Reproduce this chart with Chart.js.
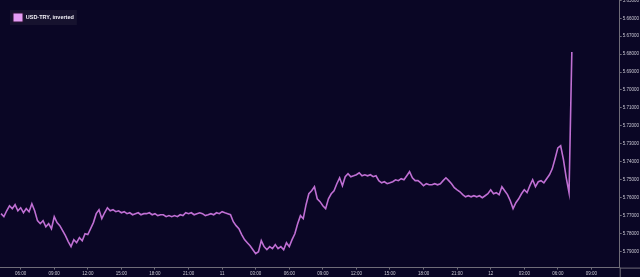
<!DOCTYPE html>
<html>
<head>
<meta charset="utf-8">
<title>USD-TRY, inverted</title>
<script src="https://cdn.jsdelivr.net/npm/chart.js@4/dist/chart.umd.min.js"></script>
<style>
    html, body { margin: 0; padding: 0; background: #0a0625; overflow: hidden; }
    #wrap { position: relative; width: 640px; height: 277px; }
</style>
</head>
<body>
<div id="wrap"><canvas id="fxChart" width="640" height="277"></canvas></div>
<script>
// USD-TRY (inverted), 15 minute samples from 10 Aug 04:15
const seriesName = 'USD-TRY, inverted';
const startHour = 4.25;      // hours since 10 Aug 00:00
const stepHours = 0.25;

const usdTryInverted = [
    5.7690, 5.7707, 5.7674, 5.7646, 5.7662, 5.7640, 5.7674, 5.7657, 5.7685, 5.7662,
    5.7679, 5.7635, 5.7674, 5.7729, 5.7746, 5.7729, 5.7763, 5.7746, 5.7774, 5.7707,
    5.7740, 5.7757, 5.7785, 5.7813, 5.7846, 5.7874, 5.7835, 5.7852, 5.7824, 5.7841,
    5.7802, 5.7807, 5.7774, 5.7740, 5.7690, 5.7668, 5.7718, 5.7685, 5.7657, 5.7674,
    5.7668, 5.7679, 5.7674, 5.7685, 5.7679, 5.7690, 5.7685, 5.7696, 5.7690, 5.7685,
    5.7696, 5.7690, 5.7690, 5.7685, 5.7696, 5.7690, 5.7701, 5.7696, 5.7696, 5.7707,
    5.7701, 5.7707, 5.7701, 5.7707, 5.7696, 5.7701, 5.7685, 5.7690, 5.7685, 5.7696,
    5.7690, 5.7685, 5.7690, 5.7701, 5.7696, 5.7690, 5.7696, 5.7685, 5.7690, 5.7679,
    5.7685, 5.7690, 5.7696, 5.7735, 5.7757, 5.7774, 5.7807, 5.7835, 5.7852, 5.7869,
    5.7891, 5.7913, 5.7902, 5.7841, 5.7874, 5.7891, 5.7874, 5.7885, 5.7863, 5.7885,
    5.7874, 5.7891, 5.7852, 5.7874, 5.7835, 5.7802, 5.7746, 5.7701, 5.7718, 5.7640,
    5.7579, 5.7562, 5.7540, 5.7607, 5.7623, 5.7646, 5.7662, 5.7607, 5.7579, 5.7562,
    5.7523, 5.7490, 5.7534, 5.7484, 5.7467, 5.7484, 5.7479, 5.7473, 5.7462, 5.7479,
    5.7473, 5.7479, 5.7473, 5.7484, 5.7479, 5.7506, 5.7518, 5.7512, 5.7523, 5.7518,
    5.7512, 5.7501, 5.7506, 5.7495, 5.7501, 5.7479, 5.7456, 5.7490, 5.7506, 5.7506,
    5.7518, 5.7534, 5.7523, 5.7529, 5.7529, 5.7523, 5.7529, 5.7523, 5.7506, 5.7490,
    5.7506, 5.7523, 5.7545, 5.7557, 5.7568, 5.7584, 5.7596, 5.7590, 5.7596, 5.7590,
    5.7596, 5.7590, 5.7601, 5.7590, 5.7579, 5.7557, 5.7579, 5.7573, 5.7584, 5.7540,
    5.7562, 5.7584, 5.7618, 5.7662, 5.7629, 5.7607, 5.7579, 5.7557, 5.7573, 5.7534,
    5.7501, 5.7540, 5.7512, 5.7506, 5.7518, 5.7495, 5.7473, 5.7440, 5.7384, 5.7323,
    5.7311, 5.7389, 5.7490, 5.7573, 5.6788
];

const xTickHours = [6, 9, 12, 15, 18, 21, 24, 27, 30, 33, 36, 39, 42, 45, 48, 51, 54, 57];
const xTickLabels = ['06:00', '09:00', '12:00', '15:00', '18:00', '21:00', '11', '03:00', '06:00',
    '09:00', '12:00', '15:00', '18:00', '21:00', '12', '03:00', '06:00', '09:00'];
const yTickValues = [5.65, 5.66, 5.67, 5.68, 5.69, 5.70, 5.71, 5.72, 5.73, 5.74, 5.75, 5.76, 5.77, 5.78, 5.79];

const BG = '#0a0625';
const AXIS = '#6f6c78';
const LABEL = '#c9c7d2';
const LINE = '#bf6fd3';

document.addEventListener('DOMContentLoaded', function () {
    drawChart();
});

function drawChart() {
    const points = usdTryInverted.map((v, i) => ({ x: startHour + i * stepHours, y: v }));

    // legend panel + axis lines running past the plot corner
    const extras = {
        id: 'extras',
        beforeDraw(chart) {
            const ctx = chart.ctx;
            ctx.save();
            ctx.fillStyle = BG;
            ctx.fillRect(0, 0, chart.width, chart.height);
            const hb = chart.legend && chart.legend.legendHitBoxes && chart.legend.legendHitBoxes[0];
            if (hb) {
                ctx.fillStyle = '#16122e';
                ctx.fillRect(hb.left - 3, hb.top - 3, hb.width + 6, hb.height + 6);
            }
            ctx.restore();
        },
        afterDraw(chart) {
            const { ctx, chartArea } = chart;
            ctx.save();
            ctx.strokeStyle = AXIS;
            ctx.lineWidth = 1;
            ctx.beginPath();
            ctx.moveTo(chartArea.right, chartArea.bottom + 0.5);
            ctx.lineTo(chart.width, chartArea.bottom + 0.5);
            ctx.moveTo(chartArea.right + 0.5, chartArea.bottom);
            ctx.lineTo(chartArea.right + 0.5, chart.height);
            ctx.stroke();
            ctx.restore();
        }
    };

    const ctx = document.getElementById('fxChart').getContext('2d');
    new Chart(ctx, {
        type: 'line',
        data: {
            datasets: [{
                label: seriesName,
                data: points,
                borderColor: LINE,
                backgroundColor: '#e59cf5',
                borderWidth: 1.6,
                borderJoinStyle: 'miter',
                pointRadius: 0,
                tension: 0,
                fill: false
            }]
        },
        options: {
            responsive: false,
            animation: false,
            layout: { padding: 0 },
            plugins: {
                tooltip: { enabled: false },
                legend: {
                    position: 'chartArea',
                    align: 'start',
                    labels: {
                        color: '#f2f0f7',
                        font: { family: 'Liberation Sans', size: 5.5, weight: 'bold' },
                        boxWidth: 10,
                        boxHeight: 9,
                        padding: 13,
                        generateLabels: function (chart) {
                            return Chart.defaults.plugins.legend.labels.generateLabels(chart).map(item => {
                                item.fillStyle = '#e59cf5';
                                item.strokeStyle = '#2a1233';
                                item.lineWidth = 1;
                                return item;
                            });
                        }
                    }
                }
            },
            scales: {
                x: {
                    type: 'linear',
                    min: 4.153,
                    max: 59.53,
                    afterBuildTicks: scale => {
                        scale.ticks = xTickHours.map(h => ({ value: h }));
                    },
                    afterFit: scale => {
                        scale.paddingLeft = 0;
                        scale.paddingRight = 0;
                    },
                    grid: {
                        display: true,
                        drawOnChartArea: false,
                        color: AXIS,
                        tickLength: 2
                    },
                    border: { display: true, color: AXIS, width: 1 },
                    ticks: {
                        autoSkip: false,
                        maxRotation: 0,
                        padding: 1,
                        color: LABEL,
                        font: { family: 'Liberation Sans', size: 4.5 },
                        callback: function (value) {
                            const idx = xTickHours.indexOf(value);
                            return idx >= 0 ? xTickLabels[idx] : '';
                        }
                    }
                },
                y: {
                    type: 'linear',
                    position: 'right',
                    reverse: true,
                    min: 5.6498,
                    max: 5.7991,
                    afterBuildTicks: scale => {
                        scale.ticks = yTickValues.map(v => ({ value: v }));
                    },
                    afterFit: scale => {
                        scale.paddingTop = 0;
                        scale.paddingBottom = 0;
                    },
                    grid: {
                        display: true,
                        drawOnChartArea: false,
                        color: AXIS,
                        tickLength: 2
                    },
                    border: { display: true, color: AXIS, width: 1 },
                    ticks: {
                        autoSkip: false,
                        padding: 1,
                        color: LABEL,
                        font: { family: 'Liberation Sans', size: 4.5 },
                        callback: value => Number(value).toFixed(5)
                    }
                }
            }
        },
        plugins: [extras]
    });
}
</script>
</body>
</html>
